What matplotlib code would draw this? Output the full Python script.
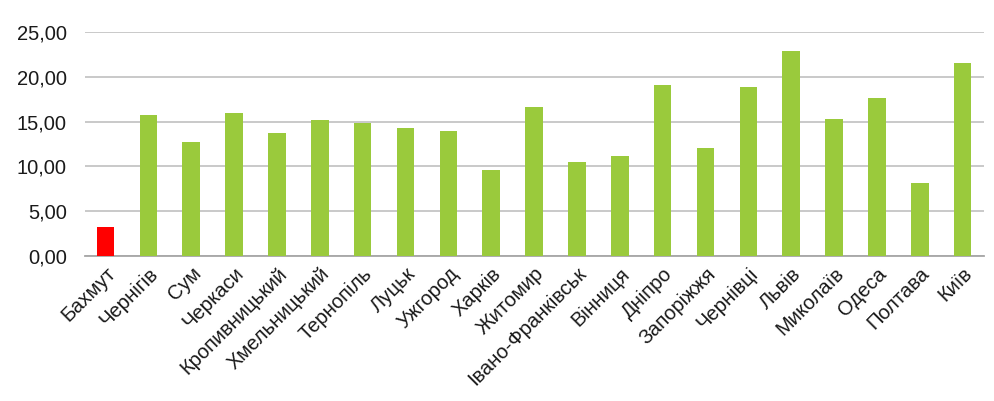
import matplotlib
matplotlib.use('Agg')
from matplotlib import pyplot as plt
from matplotlib.ticker import FuncFormatter

cities = ['Бахмут', 'Чернігів', 'Сум', 'Черкаси', 'Кропивницький', 'Хмельницький',
          'Тернопіль', 'Луцьк', 'Ужгород', 'Харків', 'Житомир', 'Івано-Франківськ',
          'Вінниця', 'Дніпро', 'Запоріжжя', 'Чернівці', 'Львів', 'Миколаїв',
          'Одеса', 'Полтава', 'Київ']
values = [3.25, 15.7, 12.75, 16.0, 13.7, 15.15, 14.9, 14.3, 13.9, 9.55, 16.65,
          10.5, 11.2, 19.05, 12.1, 18.9, 22.95, 15.3, 17.65, 8.15, 21.6]
y_ticks = [0, 5, 10, 15, 20, 25]

plt.rcParams['font.family'] = ['Liberation Sans', 'DejaVu Sans']

fig = plt.figure(figsize=(9.95, 4.01), dpi=100)
ax = fig.add_axes([0.0854, 0.3624, 0.9036, 0.5571])

colors = ['#ff0000'] + ['#9aca3c'] * (len(cities) - 1)
ax.bar(range(len(cities)), values, width=0.41, color=colors, zorder=3)

ax.set_xlim(-0.48, len(cities) - 0.5)
ax.set_ylim(0, 25)
ax.set_yticks(y_ticks)
ax.yaxis.set_major_formatter(FuncFormatter(lambda v, p: f'{v:.2f}'.replace('.', ',')))
ax.grid(axis='y', color='#c0c0c0', linewidth=1.2, zorder=0)

ax.set_xticks(range(len(cities)))
ax.set_xticklabels(cities, rotation=45, ha='right', rotation_mode='anchor')

for s in ['top', 'right', 'left']:
    ax.spines[s].set_visible(False)
ax.spines['bottom'].set_color('#a6a6a6')
ax.spines['bottom'].set_linewidth(1.3)
ax.tick_params(axis='both', length=0, labelsize=14.5, colors='#1a1a1a')
ax.tick_params(axis='y', pad=13)
ax.tick_params(axis='x', pad=6)

fig.savefig('out.png', dpi=100, facecolor='white')
